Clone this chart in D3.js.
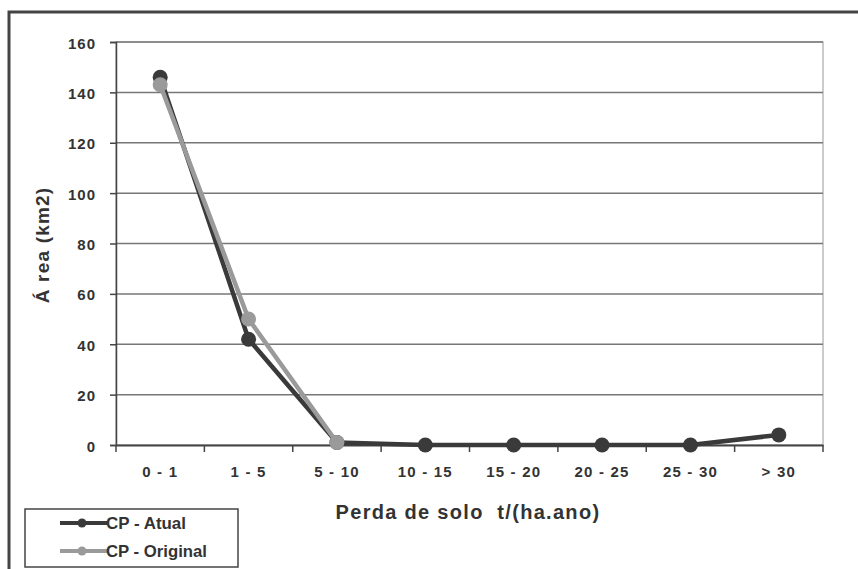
<!DOCTYPE html>
<html><head><meta charset="utf-8">
<script src="https://cdn.jsdelivr.net/npm/d3@7"></script>
<style>body{margin:0;background:#fff}svg{display:block}</style>
</head><body><svg id="c" width="858" height="569"></svg>
<script>
const categories = ["0 - 1","1 - 5","5 - 10","10 - 15","15 - 20","20 - 25","25 - 30","> 30"];
const atual = [146, 42, 1, 0, 0, 0, 0, 4];
const original = [143, 50, 1, null, null, null, null, null];
const yTicks = [0,20,40,60,80,100,120,140,160];
const seriesNames = ["CP - Atual","CP - Original"];
const colors = ["#3a3a3a","#9a9a9a"];

const svg = d3.select("#c");
const m = {l:116, r:823, t:42, b:445};
// outer frame
svg.append("path").attr("d","M9,569 V12 H858").attr("fill","none").attr("stroke","#444").attr("stroke-width",3);

const x = d3.scaleBand().domain(categories).range([m.l,m.r]);
const y = d3.scaleLinear().domain([0,160]).range([m.b,m.t]);

// plot border
svg.append("rect").attr("x",m.l).attr("y",m.t).attr("width",m.r-m.l).attr("height",m.b-m.t)
  .attr("fill","none").attr("stroke","#bbb").attr("stroke-width",1.5);
// gridlines
svg.append("g").selectAll("line").data(yTicks.filter(d=>d>0)).join("line")
  .attr("x1",m.l).attr("x2",m.r).attr("y1",d=>y(d)).attr("y2",d=>y(d))
  .attr("stroke","#777").attr("stroke-width",1.5);

const fontB = "'Liberation Sans', Arial, sans-serif";
// y axis
const ya = svg.append("g").attr("transform",`translate(${m.l},0)`)
  .call(d3.axisLeft(y).tickValues(yTicks).tickSize(6).tickPadding(14));
ya.select(".domain").attr("stroke","#444").attr("stroke-width",1.5);
ya.selectAll(".tick line").attr("stroke","#444").attr("stroke-width",1.5);
ya.selectAll("text").attr("font-family",fontB).attr("font-weight","bold").attr("font-size",15)
  .attr("letter-spacing",1).attr("fill","#333").attr("dy","0.4em");
// x axis
const xa = svg.append("g").attr("transform",`translate(0,${m.b})`)
  .call(d3.axisBottom(x).tickSize(0).tickPadding(21));
xa.select(".domain").attr("stroke","#444").attr("stroke-width",2);
xa.selectAll("text").attr("font-family",fontB).attr("font-weight","bold").attr("font-size",15)
  .attr("letter-spacing",1.2).attr("fill","#333");
// x ticks between categories
svg.append("g").selectAll("line").data(d3.range(categories.length+1)).join("line")
  .attr("x1",i=>m.l+i*x.step()).attr("x2",i=>m.l+i*x.step()).attr("y1",m.b).attr("y2",m.b+7)
  .attr("stroke","#444").attr("stroke-width",1.5);

// axis titles
svg.append("text").attr("transform",`translate(49,245) rotate(-90)`).attr("text-anchor","middle")
  .attr("font-family",fontB).attr("font-weight","bold").attr("font-size",19).attr("letter-spacing",1.2)
  .attr("fill","#333").text("Á rea (km2)");
svg.append("text").attr("x",468).attr("y",519).attr("text-anchor","middle")
  .attr("font-family",fontB).attr("font-weight","bold").attr("font-size",20).attr("fill","#333")
  .attr("letter-spacing",1.3).attr("xml:space","preserve").text("Perda de solo  t/(ha.ano)");

// series
const cx = c => x(c)+x.bandwidth()/2;
const line = d3.line().defined(d=>d.v!=null).x(d=>cx(d.c)).y(d=>y(d.v));
[atual, original].forEach((vals,si)=>{
  const data = categories.map((c,i)=>({c,v:vals[i]}));
  svg.append("path").datum(data).attr("d",line).attr("fill","none")
    .attr("stroke",colors[si]).attr("stroke-width",4.5).attr("stroke-linejoin","round");
  svg.append("g").selectAll("circle").data(data.filter(d=>d.v!=null)).join("circle")
    .attr("cx",d=>cx(d.c)).attr("cy",d=>y(d.v)).attr("r",7.5).attr("fill",colors[si]);
});

// legend
const lg = svg.append("g");
lg.append("rect").attr("x",25).attr("y",509).attr("width",213).attr("height",58)
  .attr("fill","#fff").attr("stroke","#444").attr("stroke-width",1.5);
const legW = [80, 101];
seriesNames.forEach((n,i)=>{
  const yy = 523 + i*28;
  lg.append("line").attr("x1",60).attr("x2",107).attr("y1",yy).attr("y2",yy)
    .attr("stroke",colors[i]).attr("stroke-width",4);
  lg.append("circle").attr("cx",82).attr("cy",yy).attr("r",4.5).attr("fill",colors[i]);
  lg.append("text").attr("x",106).attr("y",yy+6).attr("font-family",fontB)
    .attr("font-weight","bold").attr("font-size",17).attr("fill","#333")
    .attr("textLength",legW[i]).attr("lengthAdjust","spacingAndGlyphs").text(n);
});
</script></body></html>
